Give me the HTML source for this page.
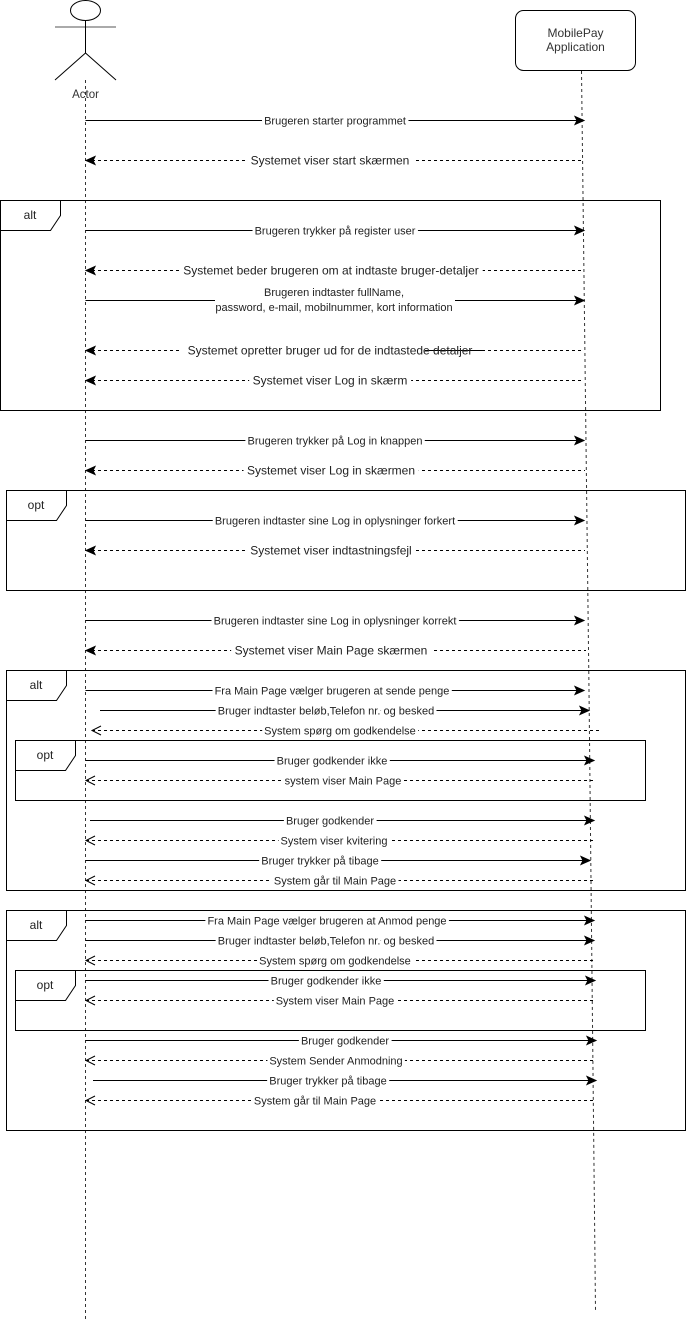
<!DOCTYPE html>
<html><head><meta charset="utf-8"><style>
html,body{margin:0;padding:0;background:#fff;}
svg{display:block;}
text{font-family:"Liberation Sans",Arial,sans-serif;fill:#222;}
.s{font-size:11px;text-anchor:middle;stroke:#fff;stroke-width:6px;paint-order:stroke;stroke-linejoin:round;}
.b{font-size:12px;text-anchor:middle;stroke:#fff;stroke-width:9px;paint-order:stroke;stroke-linejoin:round;}
.ln{stroke:#000;stroke-width:1;fill:none;}
.dl{stroke:#000;stroke-width:1;fill:none;stroke-dasharray:3,3;}
.ll{stroke:#333;stroke-width:1;fill:none;stroke-dasharray:3,3;}
.fr{fill:none;stroke:#000;stroke-width:1;}
.ah{fill:#000;stroke:#000;stroke-width:1;}
.oa{fill:none;stroke:#000;stroke-width:1;}
.lab{font-size:12px;text-anchor:middle;}
</style></head><body>
<svg width="687" height="1322" viewBox="0 0 687 1322" xmlns="http://www.w3.org/2000/svg">
<line class="ll" x1="85.5" y1="80" x2="85.5" y2="1322"/>
<polyline class="ll" points="581.5,71 589,690 595.5,1310"/>

<ellipse cx="85.5" cy="10.5" rx="15" ry="10" class="fr"/>
<line class="ln" x1="55" y1="27" x2="116" y2="27" style="stroke:#555"/>
<line class="ln" x1="85.5" y1="20.5" x2="85.5" y2="53"/>
<line class="ln" x1="85.5" y1="53" x2="55" y2="80"/>
<line class="ln" x1="85.5" y1="53" x2="116" y2="80"/>
<text x="85.5" y="98" class="lab" style="font-size:11.5px;fill:#333">Actor</text>

<rect x="515.5" y="10.5" width="120" height="60" rx="8" ry="8" class="fr" style="fill:#fff"/>
<text x="575.5" y="37" class="lab" style="fill:#333">MobilePay</text>
<text x="575.5" y="51" class="lab" style="fill:#333">Application</text>

<!-- messages first, frames drawn after so they are never covered -->
<line class="ln" x1="85.5" y1="120.5" x2="584" y2="120.5"/>
<polygon class="ah" points="575,116.5 584,120.5 575,124.5 577,120.5"/>
<text x="335" y="124.5" class="s">Brugeren starter programmet</text>

<line class="dl" x1="86" y1="160.5" x2="584" y2="160.5"/>
<polygon class="ah" points="95,156.5 86,160.5 95,164.5 93,160.5"/>
<text x="330" y="164.5" class="b">Systemet viser start skærmen</text>

<line class="ln" x1="85.5" y1="230.5" x2="584" y2="230.5"/>
<polygon class="ah" points="575,226.5 584,230.5 575,234.5 577,230.5"/>
<text x="335" y="234.5" class="s">Brugeren trykker på register user</text>

<line class="dl" x1="86" y1="270.5" x2="584" y2="270.5"/>
<polygon class="ah" points="95,266.5 86,270.5 95,274.5 93,270.5"/>
<text x="331" y="274.5" class="b">Systemet beder brugeren om at indtaste bruger-detaljer</text>

<line class="ln" x1="85.5" y1="300.5" x2="215" y2="300.5"/>
<line class="ln" x1="455" y1="300.5" x2="584" y2="300.5"/>
<polygon class="ah" points="575,296.5 584,300.5 575,304.5 577,300.5"/>
<text x="334" y="296" style="font-size:11px;text-anchor:middle">Brugeren indtaster fullName,</text>
<text x="334" y="311" style="font-size:11px;text-anchor:middle">password, e-mail, mobilnummer, kort information</text>

<line class="dl" x1="86" y1="350.5" x2="584" y2="350.5"/>
<polygon class="ah" points="95,346.5 86,350.5 95,354.5 93,350.5"/>
<rect x="180" y="343" width="250" height="14" fill="#fff"/>
<line class="ln" x1="425" y1="350.5" x2="482" y2="350.5"/>
<text x="330" y="354.5" style="font-size:12px;text-anchor:middle">Systemet opretter bruger ud for de indtastede detaljer</text>

<line class="dl" x1="86" y1="380.5" x2="584" y2="380.5"/>
<polygon class="ah" points="95,376.5 86,380.5 95,384.5 93,380.5"/>
<text x="330" y="384.5" class="b">Systemet viser Log in skærm</text>

<line class="ln" x1="85.5" y1="440.5" x2="584" y2="440.5"/>
<polygon class="ah" points="575,436.5 584,440.5 575,444.5 577,440.5"/>
<text x="335" y="444.5" class="s">Brugeren trykker på Log in knappen</text>

<line class="dl" x1="86" y1="470.5" x2="585" y2="470.5"/>
<polygon class="ah" points="95,466.5 86,470.5 95,474.5 93,470.5"/>
<text x="331" y="474.5" class="b">Systemet viser Log in skærmen</text>

<line class="ln" x1="85.5" y1="520.5" x2="584" y2="520.5"/>
<polygon class="ah" points="575,516.5 584,520.5 575,524.5 577,520.5"/>
<text x="335" y="524.5" class="s">Brugeren indtaster sine Log in oplysninger forkert</text>

<line class="dl" x1="86" y1="550.5" x2="585" y2="550.5"/>
<polygon class="ah" points="95,546.5 86,550.5 95,554.5 93,550.5"/>
<text x="331" y="554.5" class="b">Systemet viser indtastningsfejl</text>

<line class="ln" x1="85.5" y1="620.5" x2="584" y2="620.5"/>
<polygon class="ah" points="575,616.5 584,620.5 575,624.5 577,620.5"/>
<text x="335" y="624.5" class="s">Brugeren indtaster sine Log in oplysninger korrekt</text>

<line class="dl" x1="86" y1="650.5" x2="586" y2="650.5"/>
<polygon class="ah" points="95,646.5 86,650.5 95,654.5 93,650.5"/>
<text x="331" y="654.5" class="b">Systemet viser Main Page skærmen</text>

<line class="ln" x1="85.5" y1="690.5" x2="584" y2="690.5"/>
<polygon class="ah" points="575,686.5 584,690.5 575,694.5 577,690.5"/>
<text x="332" y="694.5" class="s">Fra Main Page vælger brugeren at sende penge</text>

<line class="ln" x1="100" y1="710.5" x2="589" y2="710.5"/>
<polygon class="ah" points="580,706.5 589,710.5 580,714.5 582,710.5"/>
<text x="326" y="714.5" class="s">Bruger indtaster beløb,Telefon nr. og besked</text>

<line class="dl" x1="92" y1="730.5" x2="600" y2="730.5"/>
<polyline class="oa" points="101,726 92,730.5 101,735"/>
<text x="340" y="734.5" class="s">System spørg om godkendelse</text>

<line class="ln" x1="85.5" y1="760.5" x2="594" y2="760.5"/>
<polygon class="ah" points="585,756.5 594,760.5 585,764.5 587,760.5"/>
<text x="332" y="764.5" class="s">Bruger godkender ikke</text>

<line class="dl" x1="86" y1="780.5" x2="593" y2="780.5"/>
<polyline class="oa" points="95,776 86,780.5 95,785"/>
<text x="343" y="784.5" class="s">system viser Main Page</text>

<line class="ln" x1="90" y1="820.5" x2="594" y2="820.5"/>
<polygon class="ah" points="585,816.5 594,820.5 585,824.5 587,820.5"/>
<text x="330" y="824.5" class="s">Bruger godkender</text>

<line class="dl" x1="86" y1="840.5" x2="593" y2="840.5"/>
<polyline class="oa" points="95,836 86,840.5 95,845"/>
<text x="334" y="844.5" class="s">System viser kvitering</text>

<line class="ln" x1="85.5" y1="860.5" x2="590" y2="860.5"/>
<polygon class="ah" points="581,856.5 590,860.5 581,864.5 583,860.5"/>
<text x="320" y="864.5" class="s">Bruger trykker på tibage</text>

<line class="dl" x1="86" y1="880.5" x2="593" y2="880.5"/>
<polyline class="oa" points="95,876 86,880.5 95,885"/>
<text x="335" y="884.5" class="s">System går til Main Page</text>

<line class="ln" x1="85.5" y1="920.5" x2="594" y2="920.5"/>
<polygon class="ah" points="585,916.5 594,920.5 585,924.5 587,920.5"/>
<text x="327" y="924.5" class="s">Fra Main Page vælger brugeren at Anmod penge</text>

<line class="ln" x1="85.5" y1="940.5" x2="594" y2="940.5"/>
<polygon class="ah" points="585,936.5 594,940.5 585,944.5 587,940.5"/>
<text x="326" y="944.5" class="s">Bruger indtaster beløb,Telefon nr. og besked</text>

<line class="dl" x1="86" y1="960.5" x2="594" y2="960.5"/>
<polyline class="oa" points="95,956 86,960.5 95,965"/>
<text x="335" y="964.5" class="s">System spørg om godkendelse</text>

<line class="ln" x1="85.5" y1="980.5" x2="595" y2="980.5"/>
<polygon class="ah" points="586,976.5 595,980.5 586,984.5 588,980.5"/>
<text x="326" y="984.5" class="s">Bruger godkender ikke</text>

<line class="dl" x1="86" y1="1000.5" x2="595" y2="1000.5"/>
<polyline class="oa" points="95,996 86,1000.5 95,1005"/>
<text x="335" y="1004.5" class="s">System viser Main Page</text>

<line class="ln" x1="85.5" y1="1040.5" x2="596" y2="1040.5"/>
<polygon class="ah" points="587,1036.5 596,1040.5 587,1044.5 589,1040.5"/>
<text x="345" y="1044.5" class="s">Bruger godkender</text>

<line class="dl" x1="86" y1="1060.5" x2="595" y2="1060.5"/>
<polyline class="oa" points="95,1056 86,1060.5 95,1065"/>
<text x="336" y="1064.5" class="s">System Sender Anmodning</text>

<line class="ln" x1="93" y1="1080.5" x2="596" y2="1080.5"/>
<polygon class="ah" points="587,1076.5 596,1080.5 587,1084.5 589,1080.5"/>
<text x="328" y="1084.5" class="s">Bruger trykker på tibage</text>

<line class="dl" x1="86" y1="1100.5" x2="594" y2="1100.5"/>
<polyline class="oa" points="95,1096 86,1100.5 95,1105"/>
<text x="315" y="1104.5" class="s">System går til Main Page</text>

<!-- frames -->
<rect x="0.5" y="200.5" width="660" height="210" class="fr"/>
<path class="fr" d="M0.5,230.5 L50.5,230.5 L60.5,215.5 L60.5,200.5"/>
<text x="30" y="219" class="lab">alt</text>

<rect x="6.5" y="490.5" width="679" height="100" class="fr"/>
<path class="fr" d="M6.5,520.5 L56.5,520.5 L66.5,505.5 L66.5,490.5"/>
<text x="36" y="509" class="lab">opt</text>

<rect x="6.5" y="670.5" width="679" height="220" class="fr"/>
<path class="fr" d="M6.5,700.5 L56.5,700.5 L66.5,685.5 L66.5,670.5"/>
<text x="36" y="689" class="lab">alt</text>

<rect x="15.5" y="740.5" width="630" height="60" class="fr"/>
<path class="fr" d="M15.5,770.5 L65.5,770.5 L75.5,755.5 L75.5,740.5"/>
<text x="45" y="759" class="lab">opt</text>

<rect x="6.5" y="910.5" width="679" height="220" class="fr"/>
<path class="fr" d="M6.5,940.5 L56.5,940.5 L66.5,925.5 L66.5,910.5"/>
<text x="36" y="929" class="lab">alt</text>

<rect x="15.5" y="970.5" width="630" height="60" class="fr"/>
<path class="fr" d="M15.5,1000.5 L65.5,1000.5 L75.5,985.5 L75.5,970.5"/>
<text x="45" y="989" class="lab">opt</text>
</svg>
</body></html>
